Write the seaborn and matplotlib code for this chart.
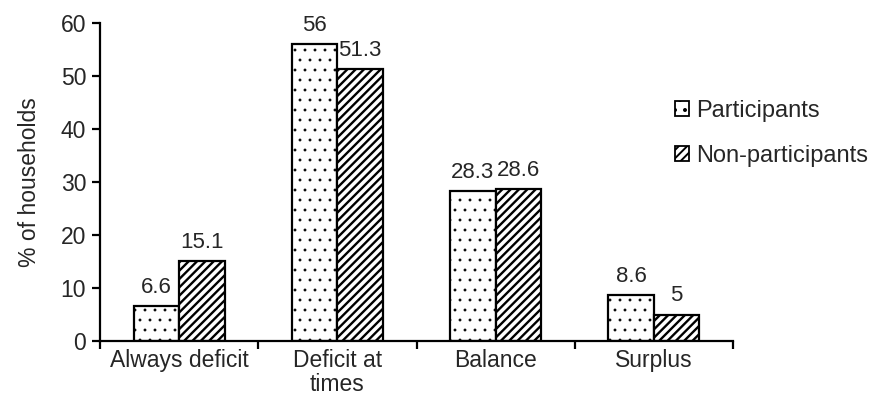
import matplotlib
matplotlib.use("Agg")
import matplotlib.pyplot as plt
import matplotlib.hatch as mhatch
from matplotlib.patches import Patch
import seaborn as sns
import pandas as pd

categories = ["Always deficit", "Deficit at\ntimes", "Balance", "Surplus"]
groups = ["Participants", "Non-participants"]
participants = [6.6, 56, 28.3, 8.6]
non_participants = [15.1, 51.3, 28.6, 5]
value_labels = [["6.6", "56", "28.3", "8.6"], ["15.1", "51.3", "28.6", "5"]]

df = pd.DataFrame({
    "category": categories * 2,
    "group": [groups[0]] * 4 + [groups[1]] * 4,
    "value": participants + non_participants,
})


# a slightly tighter stipple than the stock "." hatch (row count must be even)
def _stipple_init(self, hatch, density):
    self.num_rows = hatch.count(".") * 10
    mhatch.Circles.__init__(self, hatch, density)


mhatch.SmallFilledCircles.__init__ = _stipple_init
mhatch.SmallFilledCircles.size = 0.1

sns.set_theme(style="white")
plt.rcParams["font.family"] = ["Liberation Sans", "DejaVu Sans"]
plt.rcParams["hatch.linewidth"] = 1.4
plt.rcParams["hatch.color"] = "black"

FS = 16.5
hatches = [".", "////"]
hatch_widths = [0.6, 1.7]

fig = plt.figure(figsize=(8.72, 4.12), dpi=100)
ax = fig.add_axes([100 / 872, 71 / 412, 633 / 872, 318 / 412])

sns.barplot(data=df, x="category", y="value", hue="group", order=categories,
            hue_order=groups, palette=["white", "white"], width=0.575,
            edgecolor="black", linewidth=1.6, ax=ax, legend=False)

for container, hatch, hlw, labels in zip(ax.containers, hatches, hatch_widths,
                                         value_labels):
    for patch in container:
        patch.set_hatch(hatch)
        patch.set_edgecolor("black")
        if hasattr(patch, "set_hatch_linewidth"):
            patch.set_hatch_linewidth(hlw)
    ax.bar_label(container, labels=labels, padding=6, fontsize=16)

ax.set_ylim(0, 60)
ax.set_yticks(range(0, 61, 10))
ax.set_xlim(-0.5, 3.5)
ax.set_xticks([-0.5, 0.5, 1.5, 2.5, 3.5])
ax.set_xticklabels([])
ax.set_xticks(range(4), minor=True)
ax.set_xticklabels(categories, minor=True, fontsize=FS, linespacing=1.05)
ax.tick_params(axis="x", which="major", direction="out", length=6, width=1.6,
               bottom=True, color="black")
ax.tick_params(axis="x", which="minor", length=0, pad=6)
ax.tick_params(axis="y", direction="out", length=6, width=1.6, left=True,
               color="black", labelsize=FS, pad=4)

ax.set_xlabel("")
ax.set_ylabel("% of households", fontsize=FS, labelpad=14)
for side in ["top", "right"]:
    ax.spines[side].set_visible(False)
for side in ["left", "bottom"]:
    ax.spines[side].set_color("black")
    ax.spines[side].set_linewidth(1.6)

handles = []
for h, hlw in zip(hatches, hatch_widths):
    p = Patch(facecolor="white", edgecolor="black", hatch=h, linewidth=1.3)
    if hasattr(p, "set_hatch_linewidth"):
        p.set_hatch_linewidth(hlw)
    handles.append(p)
fig.legend(handles, groups, loc="upper left", bbox_to_anchor=(0.774, 0.757),
           frameon=False, fontsize=17, handlelength=0.6, handleheight=0.6,
           handletextpad=0.3, labelspacing=0.95, borderaxespad=0,
           borderpad=0)

fig.savefig("out.png", dpi=100, facecolor="white")
